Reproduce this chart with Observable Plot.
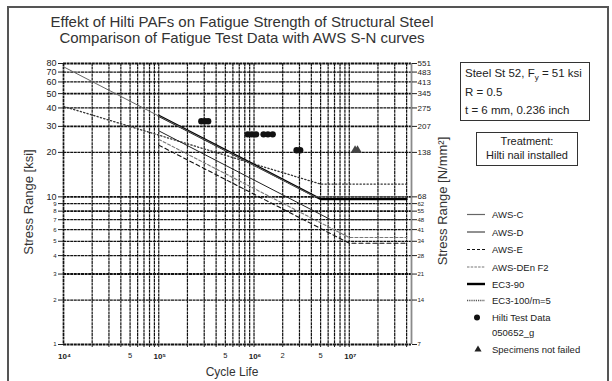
<!DOCTYPE html>
<html><head><meta charset="utf-8">
<script src="https://cdn.jsdelivr.net/npm/d3@7"></script>
<script src="https://cdn.jsdelivr.net/npm/@observablehq/plot@0.6"></script>
<style>
html,body{margin:0;padding:0;background:#fff;overflow:hidden;}
#chart svg{display:block;}
</style></head><body><div id="chart"></div>
<script>
// ---- axis values and tick labels ----
const ksiBig = [10, 20, 30, 40, 50, 60, 70, 80];
const ksiSmall = [1, 2, 3, 4, 5, 6, 7, 8, 9];
const mpaBigLabels = ["68", "138", "207", "275", "345", "413", "483", "551"];
const mpaSmallLabels = ["7", "14", "21", "28", "34", "41", "48", "55", "62"];
const cycleGrid = [2e4, 3e4, 4e4, 5e4, 6e4, 7e4, 8e4, 9e4,
  1e5, 2e5, 3e5, 4e5, 5e5, 6e5, 7e5, 8e5, 9e5,
  1e6, 2e6, 3e6, 4e6, 5e6, 6e6, 7e6, 8e6, 9e6,
  1e7, 2e7, 3e7, 4e7];
const decadeValues = [1e4, 1e5, 1e6, 1e7];
const decadeLabels = ["10⁴", "10⁵", "10⁶", "10⁷"];
const midValues = [5e4, 5e5, 2e6, 5e6];
const midLabels = ["5", "5", "2", "5"];

// ---- S-N curves (cycles, ksi) ----
const awsC_N = [1e4, 4.4e6, 4e7];   const awsC_S = [76, 10, 10];
const awsD_N = [1e5, 6.4e6, 4e7];   const awsD_S = [28, 7, 7];
const awsE_N = [1e5, 1e7, 4e7];     const awsE_S = [22.4, 4.85, 4.85];
const denF2_N = [1e5, 1e7, 4e7];    const denF2_S = [24.5, 5.3, 5.3];
const ec390_N = [1e5, 5e6, 4e7];    const ec390_S = [35.4, 9.65, 9.65];
const ec3100_N = [1e4, 5e6, 4e7];   const ec3100_S = [41, 12.2, 12.2];

// ---- Hilti test data ----
const testN = [2.8e5, 3.05e5, 3.3e5, 8.6e5, 9.5e5, 1.05e6, 1.26e6, 1.4e6, 1.57e6, 2.8e6, 3.05e6];
const testS = [32.5, 32.5, 32.5, 26.5, 26.5, 26.5, 26.5, 26.5, 26.5, 20.7, 20.7];
const runN = [1.15e7, 1.22e7];
const runS = [20.7, 20.7];

const pts = (N, S) => N.map((n, i) => ({n, s: S[i]}));

const boldY = new Set([80, 50, 30, 10, 8, 3, 1]);
const allKsi = ksiSmall.concat(ksiBig);
const gridStyle = {stroke: "#111", strokeDasharray: "3,0.6"};

const chart = Plot.plot({
  width: 612, height: 381,
  marginLeft: 63, marginRight: 201, marginTop: 63, marginBottom: 37,
  style: {fontFamily: "'Liberation Sans', Arial, sans-serif", background: "white", color: "#222"},
  x: {type: "log", domain: [1e4, 4.5e7], axis: null},
  y: {type: "log", domain: [1, 80], axis: null},
  marks: [
    Plot.ruleX(cycleGrid, {x: d => d, ...gridStyle, strokeWidth: 1.2}),
    Plot.ruleY(allKsi, {y: d => d, ...gridStyle, strokeWidth: d => boldY.has(d) ? 1.9 : 1.2}),
    Plot.ruleX([1e4], {...gridStyle, strokeWidth: 1.7}),
    Plot.ruleX([4.5e7], {stroke: "#8a8a8a", strokeWidth: 1.8}),
    // axis ticks
    Plot.axisY(allKsi, {anchor: "left", tickSize: 5, tickFormat: () => ""}),
    Plot.axisY(allKsi, {anchor: "right", tickSize: 5, tickFormat: () => ""}),
    Plot.axisX(cycleGrid, {anchor: "bottom", tickSize: 3, tickFormat: () => ""}),
    // axis labels
    Plot.text(ksiBig, {y: d => d, frameAnchor: "left", dx: -7, textAnchor: "end", text: d => String(d), fontSize: 9, fill: "#222"}),
    Plot.text(ksiSmall, {y: d => d, frameAnchor: "left", dx: -7, textAnchor: "end", text: d => String(d), fontSize: 6, fill: "#222"}),
    Plot.text(ksiBig, {y: d => d, frameAnchor: "right", dx: 6, textAnchor: "start", text: (d, i) => mpaBigLabels[i], fontSize: 8, fill: "#222"}),
    Plot.text(ksiSmall, {y: d => d, frameAnchor: "right", dx: 6, textAnchor: "start", text: (d, i) => mpaSmallLabels[i], fontSize: 6, fill: "#222"}),
    Plot.text(decadeValues, {x: d => d, y: 1, dy: 12, dx: 1, text: (d, i) => decadeLabels[i], fontSize: 8, fontWeight: "bold", fill: "#222"}),
    Plot.text(midValues, {x: d => d, y: 1, dy: 11, text: (d, i) => midLabels[i], fontSize: 7.5, fill: "#222"}),
    // S-N curves
    Plot.line(pts(ec3100_N, ec3100_S), {x: "n", y: "s", stroke: "#333", strokeWidth: 1.3, strokeDasharray: "1.3,2.2"}),
    Plot.line(pts(denF2_N, denF2_S), {x: "n", y: "s", stroke: "#777", strokeWidth: 1.1, strokeDasharray: "3,2"}),
    Plot.line(pts(awsE_N, awsE_S), {x: "n", y: "s", stroke: "#111", strokeWidth: 1.1, strokeDasharray: "4,3"}),
    Plot.line(pts(awsD_N, awsD_S), {x: "n", y: "s", stroke: "#222", strokeWidth: 1}),
    Plot.line(pts(ec390_N, ec390_S), {x: "n", y: "s", stroke: "#000", strokeWidth: 2.2}),
    Plot.line(pts(awsC_N, awsC_S), {x: "n", y: "s", stroke: "#666", strokeWidth: 1}),
    // test data
    Plot.dot(pts(testN, testS), {x: "n", y: "s", r: 3.2, fill: "#111", stroke: "none"}),
    Plot.dot(pts(runN, runS), {x: "n", y: "s", r: 3.2, symbol: "triangle", fill: "#444", stroke: "none"})
  ]
});
document.getElementById("chart").appendChild(chart);

// drop stray text that the page drew in the picture's corners (not part of the chart)
d3.select(chart).selectAll("text").each(function() {
  const b = this.getBoundingClientRect();
  const nearCorner = (b.top < 12 && (b.left < 20 || b.right > 592)) || (b.bottom > 366 && b.right > 592);
  if (nearCorner) this.remove();
});

const svg = d3.select(chart);
const font = "'Liberation Sans', Arial, sans-serif";
function txt(x, y, s, size, opts = {}) {
  const t = svg.append("text").attr("x", x).attr("y", y).text(s)
    .attr("font-family", font).attr("font-size", size).attr("fill", opts.fill || "#222")
    .attr("text-anchor", opts.anchor || "start");
  if (opts.transform) t.attr("transform", opts.transform).attr("x", 0).attr("y", 0);
  return t;
}
// outer border
svg.append("rect").attr("x", 8).attr("y", 7).attr("width", 600).attr("height", 385)
  .attr("fill", "none").attr("stroke", "#555").attr("stroke-width", 2);
// title
txt(242, 27, "Effekt of Hilti PAFs on Fatigue Strength of Structural Steel", 15, {anchor: "middle", fill: "#333"});
txt(242, 42.5, "Comparison of Fatigue Test Data with AWS S-N curves", 15, {anchor: "middle", fill: "#333"});
// axis titles
txt(0, 0, "Stress Range [ksi]", 13, {anchor: "middle", transform: "translate(33,202) rotate(-90)", fill: "#333"});
txt(0, 0, "Stress Range [N/mm²]", 13, {anchor: "middle", transform: "translate(447,201) rotate(-90)", fill: "#333"});
txt(232, 376, "Cycle Life", 12, {anchor: "middle", fill: "#333"});
// info box
svg.append("rect").attr("x", 460.5).attr("y", 62.5).attr("width", 129).attr("height", 58)
  .attr("fill", "white").attr("stroke", "#333").attr("stroke-width", 1);
const t1 = txt(465, 76.5, "Steel St 52, F", 11.5);
t1.append("tspan").attr("font-size", 8).attr("dy", 3).text("y");
t1.append("tspan").attr("dy", -3).text(" = 51 ksi");
txt(465, 95.5, "R = 0.5", 11.5);
txt(465, 113.5, "t = 6 mm, 0.236 inch", 11.5);
svg.append("rect").attr("x", 476.5).attr("y", 132.5).attr("width", 101).attr("height", 33)
  .attr("fill", "white").attr("stroke", "#333").attr("stroke-width", 1);
txt(527, 145, "Treatment:", 11, {anchor: "middle"});
txt(527, 158.5, "Hilti nail installed", 11, {anchor: "middle"});
// legend
const leg = [
  {y: 214.5, label: "AWS-C", stroke: "#666", w: 1.2, dash: null},
  {y: 232, label: "AWS-D", stroke: "#222", w: 1, dash: null},
  {y: 249.5, label: "AWS-E", stroke: "#111", w: 1.1, dash: "3,2"},
  {y: 267, label: "AWS-DEn F2", stroke: "#777", w: 1.1, dash: "2.5,1.2"},
  {y: 284, label: "EC3-90", stroke: "#000", w: 2.4, dash: null},
  {y: 300.5, label: "EC3-100/m=5", stroke: "#555", w: 1.4, dash: "1.2,1"}
];
for (const l of leg) {
  const ln = svg.append("line").attr("x1", 467).attr("x2", 485).attr("y1", l.y).attr("y2", l.y)
    .attr("stroke", l.stroke).attr("stroke-width", l.w);
  if (l.dash) ln.attr("stroke-dasharray", l.dash);
  txt(492, l.y + 3.5, l.label, 9.5);
}
svg.append("circle").attr("cx", 477).attr("cy", 317.5).attr("r", 3).attr("fill", "#111");
txt(492, 321, "Hilti Test Data", 9.5);
txt(492, 336, "050652_g", 9.5);
svg.append("path").attr("d", d3.symbol(d3.symbolTriangle, 22)()).attr("transform", "translate(478,349.5)").attr("fill", "#222");
txt(492, 353, "Specimens not failed", 9.5);
</script></body></html>
